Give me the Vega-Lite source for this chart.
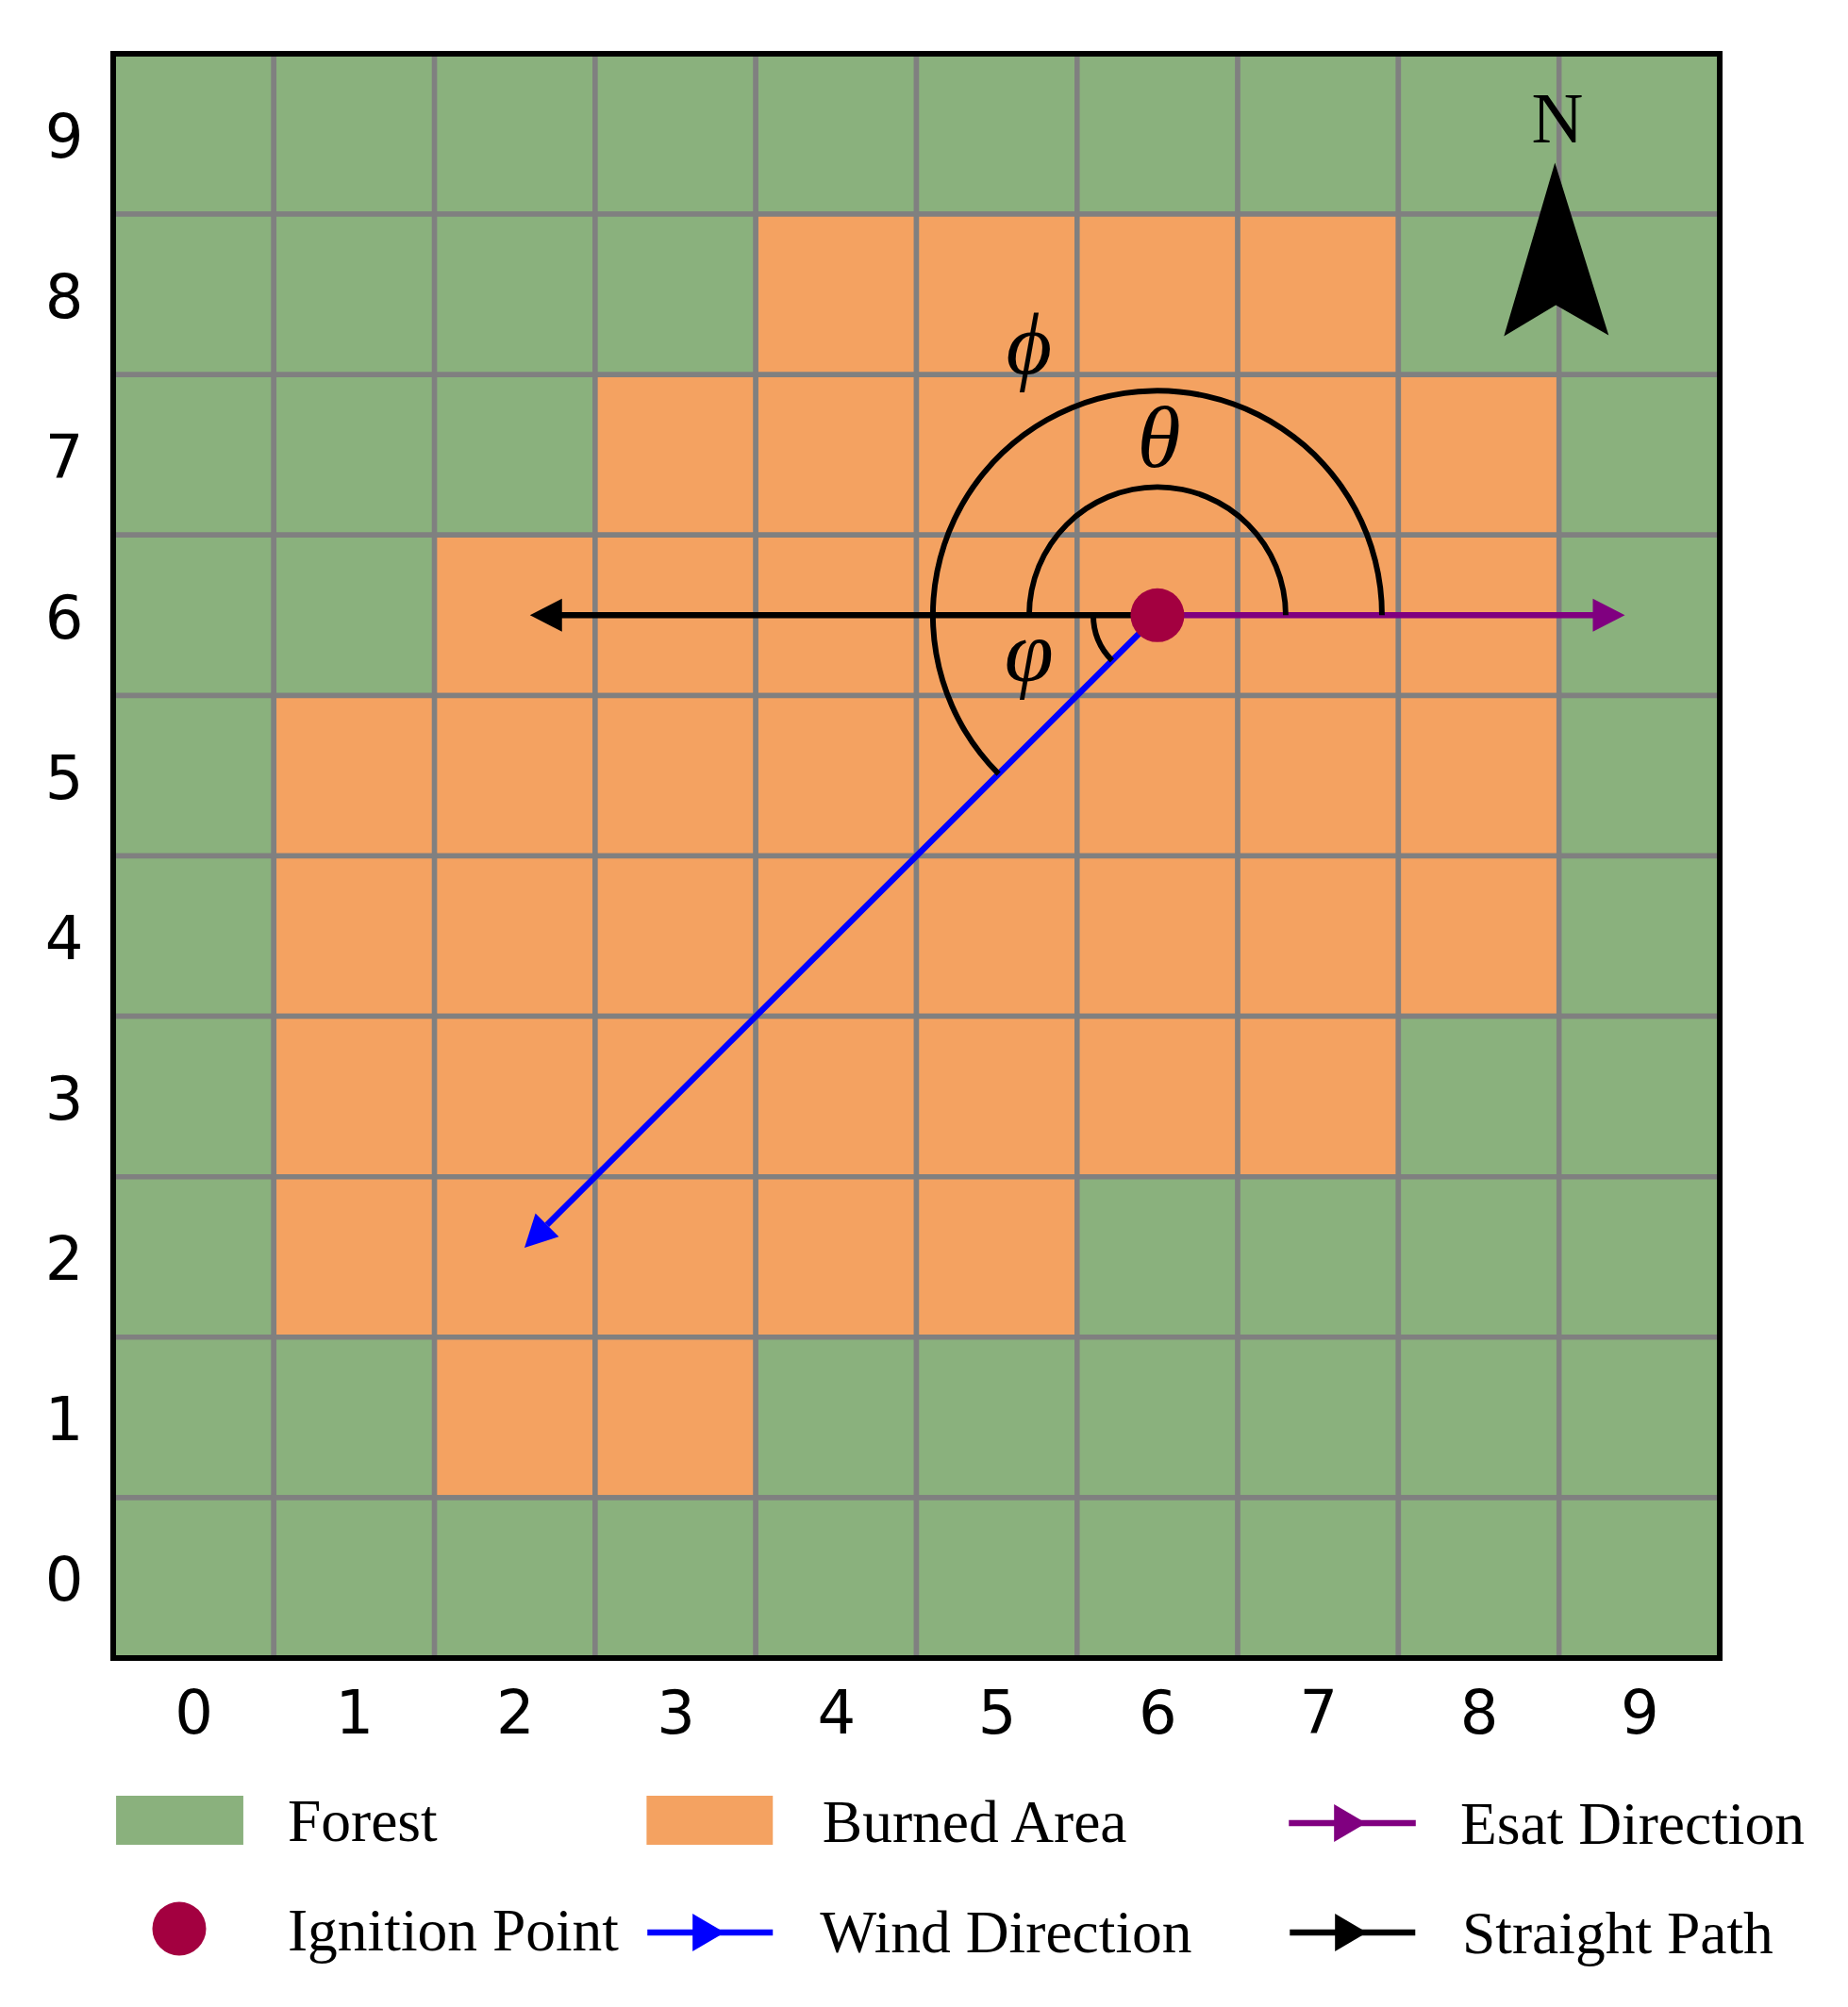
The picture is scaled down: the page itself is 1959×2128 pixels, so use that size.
{
  "$schema": "https://vega.github.io/schema/vega-lite/v6.json",
  "width": 1703,
  "height": 1701,
  "autosize": "none",
  "padding": {"left": 120, "top": 57, "right": 136, "bottom": 370},
  "background": "white",
  "config": {"view": {"stroke": null}},
  "datasets": {
    "cells": [
      {"col":0,"row":9,"state":"Forest"},{"col":1,"row":9,"state":"Forest"},{"col":2,"row":9,"state":"Forest"},{"col":3,"row":9,"state":"Forest"},{"col":4,"row":9,"state":"Forest"},{"col":5,"row":9,"state":"Forest"},{"col":6,"row":9,"state":"Forest"},{"col":7,"row":9,"state":"Forest"},{"col":8,"row":9,"state":"Forest"},{"col":9,"row":9,"state":"Forest"},
      {"col":0,"row":8,"state":"Forest"},{"col":1,"row":8,"state":"Forest"},{"col":2,"row":8,"state":"Forest"},{"col":3,"row":8,"state":"Forest"},{"col":4,"row":8,"state":"Burned Area"},{"col":5,"row":8,"state":"Burned Area"},{"col":6,"row":8,"state":"Burned Area"},{"col":7,"row":8,"state":"Burned Area"},{"col":8,"row":8,"state":"Forest"},{"col":9,"row":8,"state":"Forest"},
      {"col":0,"row":7,"state":"Forest"},{"col":1,"row":7,"state":"Forest"},{"col":2,"row":7,"state":"Forest"},{"col":3,"row":7,"state":"Burned Area"},{"col":4,"row":7,"state":"Burned Area"},{"col":5,"row":7,"state":"Burned Area"},{"col":6,"row":7,"state":"Burned Area"},{"col":7,"row":7,"state":"Burned Area"},{"col":8,"row":7,"state":"Burned Area"},{"col":9,"row":7,"state":"Forest"},
      {"col":0,"row":6,"state":"Forest"},{"col":1,"row":6,"state":"Forest"},{"col":2,"row":6,"state":"Burned Area"},{"col":3,"row":6,"state":"Burned Area"},{"col":4,"row":6,"state":"Burned Area"},{"col":5,"row":6,"state":"Burned Area"},{"col":6,"row":6,"state":"Burned Area"},{"col":7,"row":6,"state":"Burned Area"},{"col":8,"row":6,"state":"Burned Area"},{"col":9,"row":6,"state":"Forest"},
      {"col":0,"row":5,"state":"Forest"},{"col":1,"row":5,"state":"Burned Area"},{"col":2,"row":5,"state":"Burned Area"},{"col":3,"row":5,"state":"Burned Area"},{"col":4,"row":5,"state":"Burned Area"},{"col":5,"row":5,"state":"Burned Area"},{"col":6,"row":5,"state":"Burned Area"},{"col":7,"row":5,"state":"Burned Area"},{"col":8,"row":5,"state":"Burned Area"},{"col":9,"row":5,"state":"Forest"},
      {"col":0,"row":4,"state":"Forest"},{"col":1,"row":4,"state":"Burned Area"},{"col":2,"row":4,"state":"Burned Area"},{"col":3,"row":4,"state":"Burned Area"},{"col":4,"row":4,"state":"Burned Area"},{"col":5,"row":4,"state":"Burned Area"},{"col":6,"row":4,"state":"Burned Area"},{"col":7,"row":4,"state":"Burned Area"},{"col":8,"row":4,"state":"Burned Area"},{"col":9,"row":4,"state":"Forest"},
      {"col":0,"row":3,"state":"Forest"},{"col":1,"row":3,"state":"Burned Area"},{"col":2,"row":3,"state":"Burned Area"},{"col":3,"row":3,"state":"Burned Area"},{"col":4,"row":3,"state":"Burned Area"},{"col":5,"row":3,"state":"Burned Area"},{"col":6,"row":3,"state":"Burned Area"},{"col":7,"row":3,"state":"Burned Area"},{"col":8,"row":3,"state":"Forest"},{"col":9,"row":3,"state":"Forest"},
      {"col":0,"row":2,"state":"Forest"},{"col":1,"row":2,"state":"Burned Area"},{"col":2,"row":2,"state":"Burned Area"},{"col":3,"row":2,"state":"Burned Area"},{"col":4,"row":2,"state":"Burned Area"},{"col":5,"row":2,"state":"Burned Area"},{"col":6,"row":2,"state":"Forest"},{"col":7,"row":2,"state":"Forest"},{"col":8,"row":2,"state":"Forest"},{"col":9,"row":2,"state":"Forest"},
      {"col":0,"row":1,"state":"Forest"},{"col":1,"row":1,"state":"Forest"},{"col":2,"row":1,"state":"Burned Area"},{"col":3,"row":1,"state":"Burned Area"},{"col":4,"row":1,"state":"Forest"},{"col":5,"row":1,"state":"Forest"},{"col":6,"row":1,"state":"Forest"},{"col":7,"row":1,"state":"Forest"},{"col":8,"row":1,"state":"Forest"},{"col":9,"row":1,"state":"Forest"},
      {"col":0,"row":0,"state":"Forest"},{"col":1,"row":0,"state":"Forest"},{"col":2,"row":0,"state":"Forest"},{"col":3,"row":0,"state":"Forest"},{"col":4,"row":0,"state":"Forest"},{"col":5,"row":0,"state":"Forest"},{"col":6,"row":0,"state":"Forest"},{"col":7,"row":0,"state":"Forest"},{"col":8,"row":0,"state":"Forest"},{"col":9,"row":0,"state":"Forest"}
    ],
    "patches": [
      {"state":"Forest","x0":-0.482,"x1":0.31,"y0":-1.664,"y1":-1.358},
      {"state":"Burned Area","x0":2.82,"x1":3.606,"y0":-1.664,"y1":-1.358}
    ],
    "paths": [
      {"path":"Straight Path","item":"plot","x":6,"y":6},{"path":"Straight Path","item":"plot","x":2.27,"y":6},
      {"path":"Wind Direction","item":"plot","x":6,"y":6},{"path":"Wind Direction","item":"plot","x":2.2,"y":2.2},
      {"path":"Esat Direction","item":"plot","x":6,"y":6},{"path":"Esat Direction","item":"plot","x":8.73,"y":6},
      {"path":"Straight Path","item":"key","x":6.824,"y":-2.211},{"path":"Straight Path","item":"key","x":7.605,"y":-2.211},
      {"path":"Wind Direction","item":"key","x":2.825,"y":-2.211},{"path":"Wind Direction","item":"key","x":3.606,"y":-2.211},
      {"path":"Esat Direction","item":"key","x":6.818,"y":-1.529},{"path":"Esat Direction","item":"key","x":7.608,"y":-1.529}
    ],
    "heads": [
      {"path":"Straight Path","x":2.094,"y":6,"direction":180},
      {"path":"Wind Direction","x":2.06,"y":2.058,"direction":135},
      {"path":"Esat Direction","x":8.91,"y":6,"direction":0}
    ],
    "keyHeads": [
      {"path":"Straight Path","x":7.305,"y":-2.211},
      {"path":"Wind Direction","x":3.306,"y":-2.211},
      {"path":"Esat Direction","x":7.299,"y":-1.529}
    ],
    "angles": [
      {"name":"theta","x":6,"y":6,"start":-1.5708,"end":1.5708,"r0":0.782,"r1":0.816},
      {"name":"phi","x":6,"y":6,"start":-2.3562,"end":1.5708,"r0":1.381,"r1":1.416},
      {"name":"varphi","x":6,"y":6,"start":-2.3562,"end":-1.5708,"r0":0.382,"r1":0.417}
    ],
    "symbols": [
      {"label":"ϕ","x":5.2,"y":7.674},
      {"label":"θ","x":6.01,"y":7.09},
      {"label":"φ","x":5.2,"y":5.755}
    ],
    "ignition": [
      {"label":"Ignition Point","x":6,"y":6},
      {"label":"Ignition Point key","x":-0.089,"y":-2.187}
    ],
    "keyLabels": [
      {"label":"Forest","x":0.586,"y":-1.64},
      {"label":"Ignition Point","x":0.586,"y":-2.322},
      {"label":"Burned Area","x":3.915,"y":-1.646},
      {"label":"Wind Direction","x":3.9,"y":-2.334},
      {"label":"Esat Direction","x":7.885,"y":-1.658},
      {"label":"Straight Path","x":7.897,"y":-2.34}
    ]
  },
  "data": {"name": "cells"},
  "layer": [
    {
      "mark": {"type": "rect", "width": 170.3, "height": 170.1, "stroke": "#808080", "strokeWidth": 5.5},
      "encoding": {
        "x": {"field": "col", "type": "quantitative",
          "scale": {"domain": [-0.5, 9.5], "nice": false, "zero": false},
          "axis": {"values": [0,1,2,3,4,5,6,7,8,9], "title": null, "grid": false, "ticks": false, "domain": false, "labelFont": "DejaVu Sans", "labelFontSize": 64, "labelColor": "black", "labelPadding": 28, "labelFlush": false, "labelOverlap": false, "format": "d"}},
        "y": {"field": "row", "type": "quantitative",
          "scale": {"domain": [-0.5, 9.5], "nice": false, "zero": false},
          "axis": {"values": [0,1,2,3,4,5,6,7,8,9], "title": null, "grid": false, "ticks": false, "domain": false, "labelFont": "DejaVu Sans", "labelFontSize": 64, "labelColor": "black", "labelPadding": 32, "labelOffset": 5, "labelFlush": false, "labelOverlap": false, "format": "d"}},
        "fill": {"field": "state", "type": "nominal", "scale": {"domain": ["Forest", "Burned Area"], "range": ["#8ab17d", "#f4a261"]}, "legend": null}
      }
    },
    {
      "data": {"name": "patches"},
      "mark": {"type": "rect", "clip": false},
      "encoding": {
        "x": {"field": "x0", "type": "quantitative"},
        "x2": {"field": "x1"},
        "y": {"field": "y0", "type": "quantitative"},
        "y2": {"field": "y1"},
        "fill": {"field": "state", "type": "nominal", "legend": null}
      }
    },
    {
      "data": {"name": "paths"},
      "mark": {"type": "line", "strokeWidth": 6.5, "clip": false},
      "encoding": {
        "x": {"field": "x", "type": "quantitative"},
        "y": {"field": "y", "type": "quantitative"},
        "detail": {"field": "item"},
        "color": {"field": "path", "type": "nominal", "legend": null,
          "scale": {"domain": ["Straight Path", "Wind Direction", "Esat Direction"], "range": ["black", "#0000ff", "#800080"]}}
      }
    },
    {
      "data": {"name": "heads"},
      "mark": {"type": "point", "filled": true, "opacity": 1, "strokeWidth": 0, "size": 40000, "shape": "M0,0L-0.34,-0.175L-0.34,0.175Z"},
      "encoding": {
        "x": {"field": "x", "type": "quantitative"},
        "y": {"field": "y", "type": "quantitative"},
        "angle": {"field": "direction", "type": "quantitative", "scale": null},
        "color": {"field": "path", "type": "nominal", "legend": null}
      }
    },
    {
      "data": {"name": "keyHeads"},
      "mark": {"type": "point", "filled": true, "opacity": 1, "strokeWidth": 0, "size": 40000, "shape": "M0,0L-0.34,-0.2L-0.34,0.2Z", "clip": false},
      "encoding": {
        "x": {"field": "x", "type": "quantitative"},
        "y": {"field": "y", "type": "quantitative"},
        "color": {"field": "path", "type": "nominal", "legend": null}
      }
    },
    {
      "data": {"name": "angles"},
      "mark": {"type": "arc", "fill": "black"},
      "encoding": {
        "x": {"field": "x", "type": "quantitative"},
        "y": {"field": "y", "type": "quantitative"},
        "theta": {"field": "start", "type": "quantitative", "scale": null},
        "theta2": {"field": "end"},
        "radius": {"field": "r1", "type": "quantitative", "scale": {"domain": [0, 1], "range": [0, 170.2]}},
        "radius2": {"field": "r0"}
      }
    },
    {
      "data": {"name": "ignition"},
      "mark": {"type": "point", "shape": "circle", "filled": true, "opacity": 1, "size": 3249, "fill": "#a30040", "strokeWidth": 0, "clip": false},
      "encoding": {
        "x": {"field": "x", "type": "quantitative"},
        "y": {"field": "y", "type": "quantitative"}
      }
    },
    {
      "data": {"name": "symbols"},
      "mark": {"type": "text", "font": "Liberation Serif", "fontStyle": "italic", "fontSize": 94, "align": "center", "baseline": "middle", "color": "black"},
      "encoding": {
        "x": {"field": "x", "type": "quantitative"},
        "y": {"field": "y", "type": "quantitative"},
        "text": {"field": "label"}
      }
    },
    {
      "data": {"values": [{"label": "N", "x": 8.49, "y": 8.947}]},
      "mark": {"type": "text", "font": "Liberation Serif", "fontSize": 76, "align": "center", "baseline": "alphabetic", "color": "black"},
      "encoding": {
        "x": {"field": "x", "type": "quantitative"},
        "y": {"field": "y", "type": "quantitative"},
        "text": {"field": "label"}
      }
    },
    {
      "data": {"values": [{"label": "North", "x": 8.48, "y": 8.28}]},
      "mark": {"type": "point", "filled": true, "opacity": 1, "fill": "black", "strokeWidth": 0, "size": 40000, "shape": "M-0.01,-0.92L-0.55,0.92L0,0.59L0.56,0.91Z"},
      "encoding": {
        "x": {"field": "x", "type": "quantitative"},
        "y": {"field": "y", "type": "quantitative"}
      }
    },
    {
      "data": {"name": "keyLabels"},
      "mark": {"type": "text", "font": "Liberation Serif", "fontSize": 63.5, "align": "left", "baseline": "alphabetic", "color": "black", "clip": false},
      "encoding": {
        "x": {"field": "x", "type": "quantitative"},
        "y": {"field": "y", "type": "quantitative"},
        "text": {"field": "label"}
      }
    },
    {
      "data": {"values": [{"x0": -0.5, "x1": 9.5, "y0": -0.5, "y1": 9.5}]},
      "mark": {"type": "rect", "fillOpacity": 0, "stroke": "black", "strokeWidth": 6},
      "encoding": {
        "x": {"field": "x0", "type": "quantitative"},
        "x2": {"field": "x1"},
        "y": {"field": "y0", "type": "quantitative"},
        "y2": {"field": "y1"}
      }
    }
  ]
}
